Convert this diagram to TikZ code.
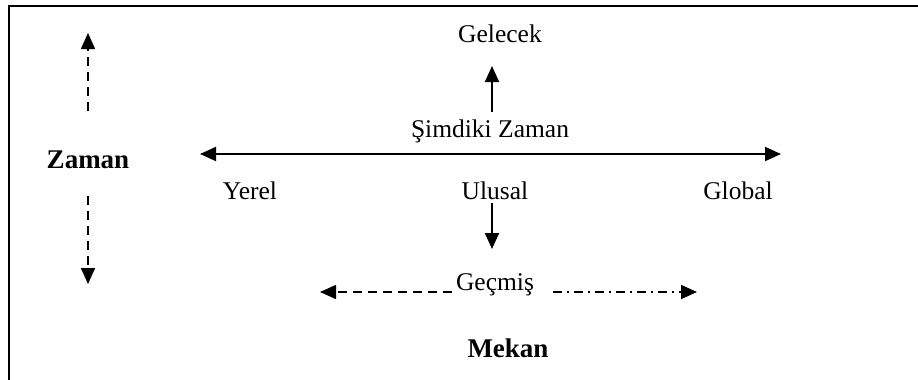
\documentclass[tikz,border=0pt]{standalone}
\usepackage{fontspec}
\setmainfont{Liberation Serif}
\usetikzlibrary{arrows.meta}
\begin{document}
\begin{tikzpicture}[x=1pt,y=-1pt,
  lbl/.style={inner sep=0pt,anchor=base,font=\fontsize{25.5}{30}\selectfont},
  boldlbl/.style={lbl,font=\fontsize{27}{32}\selectfont\bfseries},
  head/.tip={Triangle[length=16pt,width=14pt]},
  tip/.style={-head},
  solidarrow/.style={tip,line width=1.9pt},
  dasharrow/.style={tip,line width=1.5pt,dash pattern=on 9pt off 6pt},
  dotdasharrow/.style={tip,line width=1.5pt,dash pattern=on 9pt off 5pt on 2pt off 5pt}]
  \clip (0,0) rectangle (918,380);
  % outer frame
  \draw[line width=1.6pt] (9,6) rectangle (940,400);

  % time labels
  \node[lbl] (gelecek) at (500,42) {Gelecek};
  \node[lbl] (simdi) at (490,137) {Şimdiki Zaman};
  \node[lbl] (gecmis) at (495,290) {Geçmiş};
  \node[boldlbl] (zaman) at (88,168) {Zaman};
  \node[boldlbl] (mekan) at (508,357) {Mekan};

  % space labels
  \node[lbl] (yerel) at (250,199) {Yerel};
  \node[lbl] (ulusal) at (495,199) {Ulusal};
  \node[lbl] (global) at (738,199) {Global};

  % arrow end points
  \coordinate (up0) at (492,112);
  \coordinate (up1) at (492,66);
  \coordinate (dn0) at (492,203);
  \coordinate (dn1) at (492,249);
  \coordinate (axL) at (200,154);
  \coordinate (axR) at (781,154);
  \coordinate (zu0) at (88,111);
  \coordinate (zu1) at (88,33);
  \coordinate (zd0) at (88,196);
  \coordinate (zd1) at (88,284);
  \coordinate (gl0) at (452,292);
  \coordinate (gl1) at (320,292);
  \coordinate (gr0) at (553,292);
  \coordinate (gr1) at (697,292);

  % space axis
  \draw[solidarrow,head-head] (axL) -- (axR);
  % present to future, national downward
  \draw[solidarrow] (up0) -- (up1);
  \draw[solidarrow] (dn0) -- (dn1);
  % time direction
  \draw[dasharrow] (zu0) -- (zu1);
  \draw[dasharrow] (zd0) -- (zd1);
  % past, spreading sideways
  \draw[dasharrow] (gl0) -- (gl1);
  \draw[dotdasharrow] (gr0) -- (gr1);
\end{tikzpicture}
\end{document}
